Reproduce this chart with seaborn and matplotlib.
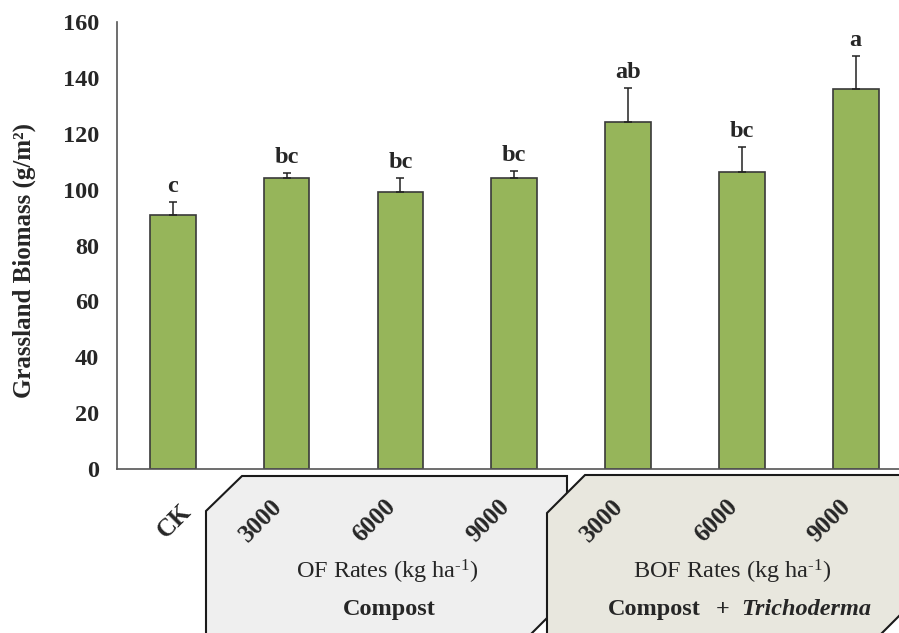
import matplotlib.pyplot as plt
import numpy as np
import pandas as pd
import seaborn as sns
from matplotlib.patches import Polygon

# data
treatments = ["CK", "OF 3000", "OF 6000", "OF 9000", "BOF 3000", "BOF 6000", "BOF 9000"]
tick_labels = ["CK", "3000", "6000", "9000", "3000", "6000", "9000"]
biomass = [91.0, 104.0, 99.0, 104.0, 124.2, 106.3, 136.1]
biomass_err = [4.6, 2.0, 5.1, 2.6, 12.3, 9.0, 11.9]
letters = ["c", "bc", "bc", "bc", "ab", "bc", "a"]

df = pd.DataFrame({"treatment": treatments, "biomass": biomass, "err": biomass_err})

W, H = 899, 633
sns.set_style("white")
plt.rcParams["font.family"] = ["Liberation Serif", "DejaVu Serif"]
plt.rcParams["mathtext.fontset"] = "custom"
plt.rcParams["mathtext.rm"] = "Liberation Serif"
plt.rcParams["mathtext.it"] = "Liberation Serif:italic"
plt.rcParams["mathtext.bf"] = "Liberation Serif:bold"


def fx(px):
    return px / W


def fy(py):
    return 1 - py / H


fig = plt.figure(figsize=(W / 100, H / 100), dpi=100)
ax = fig.add_axes([fx(117), fy(469), (W - 117) / W, (469 - 22) / H])
ax.patch.set_alpha(0)

sns.barplot(data=df, x="treatment", y="biomass", color="#96B55A", width=0.4,
            edgecolor="#3a3a3a", linewidth=1.2, errorbar=None, saturation=1, ax=ax)
ax.errorbar(np.arange(len(biomass)), df["biomass"],
            yerr=[np.zeros(len(biomass)), df["err"]], fmt="none",
            ecolor="#222222", elinewidth=1.1, capsize=3, capthick=1.1)

for i, (v, e, lt) in enumerate(zip(biomass, biomass_err, letters)):
    ax.annotate(lt, xy=(i, v + e), xytext=(0, 7), textcoords="offset points",
                ha="center", va="baseline", fontsize=17.5, fontweight="bold")

ax.set_ylim(0, 160)
ax.set_yticks(range(0, 161, 20))
ax.set_xlim(-0.49, 6.38)
ax.set_xticks(range(len(treatments)), [""] * len(treatments))
ax.set_xticks(np.arange(0.5, 6.5, 1), minor=True)
ax.tick_params(axis="x", which="major", length=0)
ax.tick_params(axis="x", which="minor", length=3, color="#999999", width=0.8)
ax.tick_params(axis="y", length=7, width=1.1, color="#555555", pad=6,
               labelsize=17.5)
for t in ax.get_yticklabels():
    t.set_fontweight("bold")
ax.set_xlabel("")
ax.set_ylabel("Grassland Biomass (g/m²)", fontsize=18, fontweight="bold")
ax.yaxis.label.set_va("center")
ax.yaxis.set_label_coords(-0.118, 0.467)
sns.despine(ax=ax)
for side in ["left", "bottom"]:
    ax.spines[side].set_color("#555555")
    ax.spines[side].set_linewidth(1.2)

# rotated category labels
for i, lbl in enumerate(tick_labels):
    dx = 2 if lbl == "CK" else -26
    ax.annotate(lbl, xy=(i, 0), xycoords=("data", "axes fraction"),
                xytext=(dx * 0.72, -52 * 0.72), textcoords="offset points",
                rotation=45, ha="center", va="center", fontsize=18,
                fontweight="bold", annotation_clip=False, zorder=5)

# group boxes under the axis
box1 = [(206, 645), (206, 511), (242, 476), (567, 476), (567, 598), (520, 645)]
box2 = [(547, 645), (547, 513), (585, 475), (918, 475), (918, 597), (870, 645)]
for pts, fc in [(box1, "#EFEFEF"), (box2, "#E8E7DE")]:
    fig.patches.append(Polygon([(fx(x), fy(y)) for x, y in pts], closed=True,
                               transform=fig.transFigure, facecolor=fc,
                               edgecolor="#1a1a1a", linewidth=1.5, zorder=-1))

fig.text(fx(387), fy(579), r"OF Rates (kg ha$^{\text{-}1}$)", ha="center",
         va="baseline", fontsize=17.5)
fig.text(fx(389), fy(615), "Compost", ha="center", va="baseline",
         fontsize=17.5, fontweight="bold")
fig.text(fx(732), fy(579), r"BOF Rates (kg ha$^{\text{-}1}$)", ha="center",
         va="baseline", fontsize=17.5)
fig.text(fx(608), fy(615), "Compost", ha="left", va="baseline",
         fontsize=17.5, fontweight="bold")
fig.text(fx(723), fy(615), "+", ha="center", va="baseline",
         fontsize=17.5, fontweight="bold")
fig.text(fx(741), fy(615), "Trichoderma", ha="left", va="baseline",
         fontsize=17.5, fontweight="bold", fontstyle="italic")

fig.savefig("out.png", dpi=100)
